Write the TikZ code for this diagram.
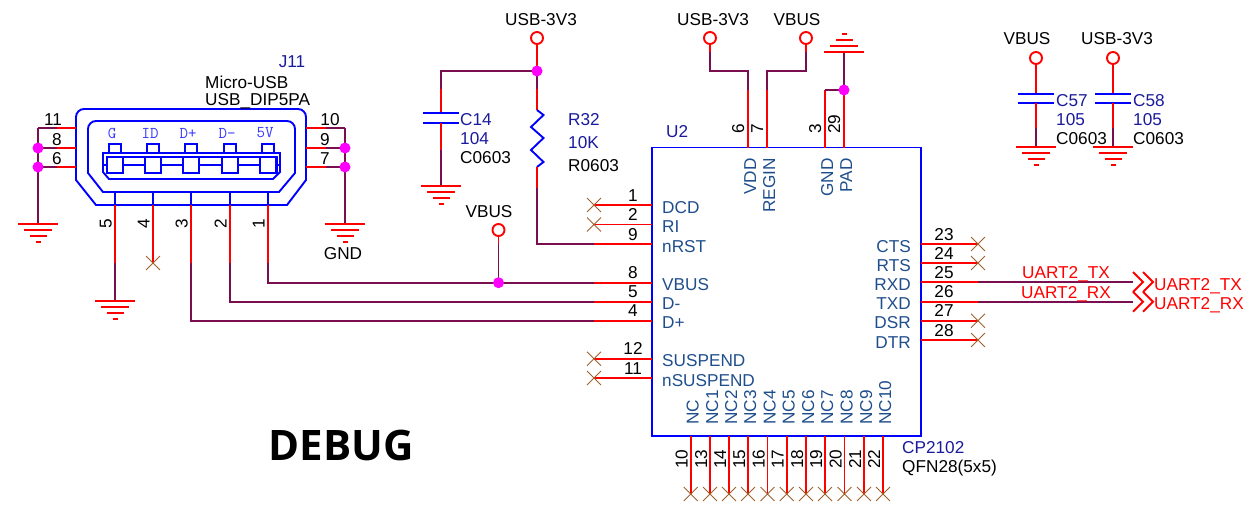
\documentclass[tikz,border=0pt]{standalone}
\usepackage{fontspec}
\setmainfont{Liberation Sans}
\newfontfamily\debugfont{Open Sans}
\usetikzlibrary{shapes.misc}
\definecolor{pinred}{HTML}{FF0000}
\definecolor{wirepurple}{HTML}{7A0F50}
\definecolor{bodyblue}{HTML}{0000FF}
\definecolor{refnavy}{HTML}{1A1A9C}
\definecolor{namesteel}{HTML}{1F4E8C}
\definecolor{ncbrown}{HTML}{A0602A}
\definecolor{dotpink}{HTML}{FF00FF}
\definecolor{shellblue}{HTML}{3838FF}
\tikzset{
  lbl/.style={inner sep=0pt,text height=12pt,text depth=0pt,font=\fontsize{17.2}{17}\selectfont},
  pinname/.style={lbl,text=namesteel},
  refname/.style={lbl,text=refnavy},
  netname/.style={lbl,text=pinred},
  pin/.style={draw=pinred,line width=1.9pt},
  wire/.style={draw=wirepurple,line width=1.9pt},
  body/.style={draw=bodyblue,line width=1.9pt},
  nc/.style={cross out,draw=ncbrown,line width=0.9pt,minimum size=13pt,inner sep=0pt},
  dot/.style={circle,fill=dotpink,minimum size=11pt,inner sep=0pt},
  port/.style={circle,draw=pinred,line width=1.9pt,minimum size=12pt,inner sep=0pt},
  gnd/.pic={\draw[pin] (-20,0)--(20,0) (-14,6)--(14,6) (-8.5,12)--(8.5,12) (-2.5,18)--(2.5,18);},
  chevron/.pic={\draw[pin] (0,-10)--(10,0)--(0,10) (10,-10)--(20,0)--(10,10);}
}
\begin{document}
\begin{tikzpicture}[x=1pt,y=-1pt]
\useasboundingbox (0,0) rectangle (1258,509);
% J11
\draw[body] (96,205)--(76,180)[rounded corners=8]--(76,109)--(306,109)[sharp corners]--(306,180)--(287,205)--cycle;
\draw[body] (103,192)--(88,173)[rounded corners=8]--(88,121)--(295,121)[sharp corners]--(295,173)--(279,192)--cycle;
\draw[body] (103,172)--(103,153)--(280,153)--(280,172)--(273,179)--(109,179)--cycle;
\draw[body,line width=1.4pt] (107,174)--(107,157)--(277,157)--(277,174);
\draw[body] (103,165)--(280,165);
\foreach \n/\x/\s in {5/115/G,4/153/ID,3/191/D+,2/230/D-,1/268/5V}{
  \draw[body,fill=white] (\x-6,144) rectangle (\x+6,153);
  \draw[body,fill=white] (\x-8,157) rectangle (\x+8,173);
  \node[inner sep=0pt,text=shellblue,font=\ttfamily\fontsize{16.5}{16}\selectfont] (shell\n) at (\x-3,133) {\s};
  \coordinate (jb\n) at (\x,192);
  \coordinate (jp\n) at (\x,205);
  \coordinate (je\n) at (\x,263);
  \draw[body] (jb\n)--(jp\n);
  \draw[pin] (jp\n)--(je\n);
  \node[lbl,rotate=90] (jnum\n) at (\x-9.5,224) {\n};
}
\foreach \n/\y/\xn in {11/128/53,8/148/57,6/167/57}{
  \coordinate (jl\n) at (76,\y);
  \coordinate (jm\n) at (57,\y);
  \coordinate (jw\n) at (38,\y);
  \draw[pin] (jl\n)--(jm\n);
  \draw[wire] (jm\n)--(jw\n);
  \node[lbl] (jnum\n) at (\xn,\y-9) {\n};
}
\foreach \n/\y/\xn in {10/128/330,9/148/325,7/167/325}{
  \coordinate (jr\n) at (306,\y);
  \coordinate (jm\n) at (326,\y);
  \coordinate (jw\n) at (345,\y);
  \draw[pin] (jr\n)--(jm\n);
  \draw[wire] (jm\n)--(jw\n);
  \node[lbl] (jnum\n) at (\xn,\y-9) {\n};
}
\coordinate (gndl) at (38,224);
\coordinate (gndr) at (345,224);
\coordinate (gndb) at (115,301);
\draw[wire] (jw11)--(gndl);
\draw[wire] (jw10)--(gndr);
\draw[wire] (je5)--(gndb);
\pic at (gndl) {gnd};
\pic at (gndr) {gnd};
\pic at (gndb) {gnd};
\node[nc] (ncj4) at (je4) {};
\node[refname] (j11) at (292,61) {J11};
\node[lbl,anchor=west] (jtype) at (205,82) {Micro-USB};
\node[lbl,anchor=west] (jfoot) at (205,99.7) {USB\_DIP5PA};
\node[lbl] (jgnd) at (343,253) {GND};
% U2
\draw[body] (652,147.5) rectangle (921,436);
\node[refname,anchor=west] (u2) at (666,131) {U2};
\node[refname,anchor=west] (u2type) at (902,447) {CP2102};
\node[lbl,anchor=west] (u2foot) at (902,466) {QFN28(5x5)};
\foreach \n/\y/\s in {1/205/DCD,2/224.5/RI,9/244/nRST,8/282.7/VBUS,5/301.7/D-,4/320.7/D+,12/358.7/SUSPEND,11/378/nSUSPEND}{
  \coordinate (pl\n) at (652,\y);
  \coordinate (ple\n) at (594,\y);
  \draw[pin] (pl\n)--(ple\n);
  \node[lbl] (num\n) at (633,\y-10) {\n};
  \node[pinname,anchor=west] (name\n) at (662,\y+2) {\s};
}
\foreach \n/\y/\s in {23/244/CTS,24/263/RTS,25/282/RXD,26/301.7/TXD,27/320.7/DSR,28/340/DTR}{
  \coordinate (pr\n) at (921,\y);
  \coordinate (pre\n) at (978,\y);
  \draw[pin] (pr\n)--(pre\n);
  \node[lbl] (num\n) at (944,\y-10) {\n};
  \node[pinname,anchor=east] (name\n) at (911,\y+2) {\s};
}
\foreach \n/\x/\s in {10/690.7/NC,13/710/NC1,14/729/NC2,15/748/NC3,16/767.5/NC4,17/786.7/NC5,18/806/NC6,19/825/NC7,20/844.5/NC8,21/864/NC9,22/883/NC10}{
  \coordinate (pb\n) at (\x,436);
  \coordinate (pbe\n) at (\x,494);
  \draw[pin] (pb\n)--(pbe\n);
  \node[nc] (nc\n) at (pbe\n) {};
  \node[lbl,rotate=90] (num\n) at (\x-9,459) {\n};
  \node[pinname,rotate=90,anchor=west] (name\n) at (\x+2,425) {\s};
}
\foreach \n/\x/\s in {6/748/VDD,7/767/REGIN,3/825/GND,29/844/PAD}{
  \coordinate (pt\n) at (\x,147.5);
  \coordinate (pte\n) at (\x,90);
  \draw[pin] (pt\n)--(pte\n);
  \node[lbl,rotate=90,anchor=west] (num\n) at (\x-10,134) {\n};
  \node[pinname,rotate=90,anchor=east] (name\n) at (\x+2,158) {\s};
}
\foreach \n in {1,2,12,11}{\node[nc] (nc\n) at (ple\n) {};}
\foreach \n in {23,24,27,28}{\node[nc] (nc\n) at (pre\n) {};}
% USB nets
\coordinate (jvbus) at (498.5,282.7);
\draw[wire] (je1)--(je1|-pl8)--(ple8);
\draw[wire] (je2)--(je2|-pl5)--(ple5);
\draw[wire] (je3)--(je3|-pl4)--(ple4);
\node[port] (portv) at (498.5,230) {};
\node[lbl] (portvt) at (489,211) {VBUS};
\coordinate (portvm) at (498.5,244);
\draw[pin] (portv)--(portvm);
\draw[wire] (portvm)--(jvbus);
% top ports
\node[port] (port33a) at (537,38) {};
\node[lbl] (port33at) at (541,19) {USB-3V3};
\node[port] (port33b) at (710,38) {};
\node[lbl] (port33bt) at (713,19) {USB-3V3};
\node[port] (portvb) at (806,38) {};
\node[lbl] (portvbt) at (797,19) {VBUS};
\coordinate (jtop) at (537,71);
\coordinate (c14a) at (441,89);
\coordinate (c14t) at (441,113);
\coordinate (c14b) at (441,123);
\coordinate (c14c) at (441,150);
\coordinate (gndc14) at (441,186);
\coordinate (r32a) at (537,89);
\coordinate (r32t) at (537,110);
\coordinate (r32b) at (537,167);
\coordinate (r32c) at (537,188);
\draw[pin] (port33a)--(jtop);
\draw[wire] (jtop)--(c14a|-jtop)--(c14a);
\draw[pin] (c14a)--(c14t);
\draw[body] (423,113)--(459,113) (423,123)--(459,123);
\draw[pin] (c14b)--(c14c);
\draw[wire] (c14c)--(gndc14);
\pic at (gndc14) {gnd};
\draw[wire] (jtop)--(r32a);
\draw[pin] (r32a)--(r32t);
\draw[body] (r32t)--(543.5,115)--(531,127)--(543.5,138)--(531,150)--(543.5,162)--(r32b);
\draw[pin] (r32b)--(r32c);
\draw[wire] (r32c)--(r32c|-pl9)--(ple9);
\node[refname,anchor=west] (c14) at (460,119) {C14};
\node[refname,anchor=west] (c14v) at (460,138) {104};
\node[lbl,anchor=west] (c14f) at (460,157) {C0603};
\node[refname,anchor=west] (r32) at (568,119) {R32};
\node[refname,anchor=west] (r32v) at (568,142) {10K};
\node[lbl,anchor=west] (r32f) at (568,165) {R0603};
\coordinate (vddm) at (710,52);
\coordinate (regm) at (806,52);
\coordinate (gndt) at (844,52);
\coordinate (jpad) at (844,90);
\draw[pin] (port33b)--(vddm);
\draw[wire] (vddm)--(710,71)--(748,71)--(pte6);
\draw[pin] (portvb)--(regm);
\draw[wire] (regm)--(806,71)--(767,71)--(pte7);
\draw[wire] (gndt)--(jpad)--(pte3);
\pic[yscale=-1] at (gndt) {gnd};
% uart
\foreach \n/\y/\s/\t in {25/282/UART2\_TX/272,26/301.7/UART2\_RX/292}{
  \coordinate (uw\n) at (978,\y);
  \coordinate (ue\n) at (1133,\y);
  \draw[wire] (uw\n)--(ue\n);
  \pic at (ue\n) {chevron};
  \node[netname] (net\n) at (1066,\t) {\s};
  \node[netname,anchor=west] (off\n) at (1154,\y+2) {\s};
}
% decoupling
\foreach \n/\x/\s/\xt/\v in {57/1036/VBUS/1027/a,58/1113/USB-3V3/1117/b}{
  \node[port] (portc\n) at (\x,58) {};
  \node[lbl] (portct\n) at (\xt,38) {\s};
  \coordinate (c\n t) at (\x,94);
  \coordinate (c\n b) at (\x,103);
  \coordinate (c\n m) at (\x,128);
  \coordinate (gndc\n) at (\x,147);
  \draw[pin] (portc\n)--(c\n t);
  \draw[body] (\x-18,94)--(\x+18,94) (\x-18,103)--(\x+18,103);
  \draw[pin] (c\n b)--(c\n m);
  \draw[wire] (c\n m)--(gndc\n);
  \pic at (gndc\n) {gnd};
  \node[refname,anchor=west] (c\n) at (\x+20,100) {C\n};
  \node[refname,anchor=west] (c\n v) at (\x+20,119) {105};
  \node[lbl,anchor=west] (c\n f) at (\x+20,138) {C0603};
}
% junctions
\foreach \c/\p in {a/jw8,b/jw6,c/jw9,d/jw7,e/jvbus,f/jtop,g/jpad}{\node[dot] (dot\c) at (\p) {};}
\node[inner sep=0pt,font=\debugfont\bfseries\fontsize{42}{42}\selectfont] (debug) at (341,445) {DEBUG};
\end{tikzpicture}
\end{document}
